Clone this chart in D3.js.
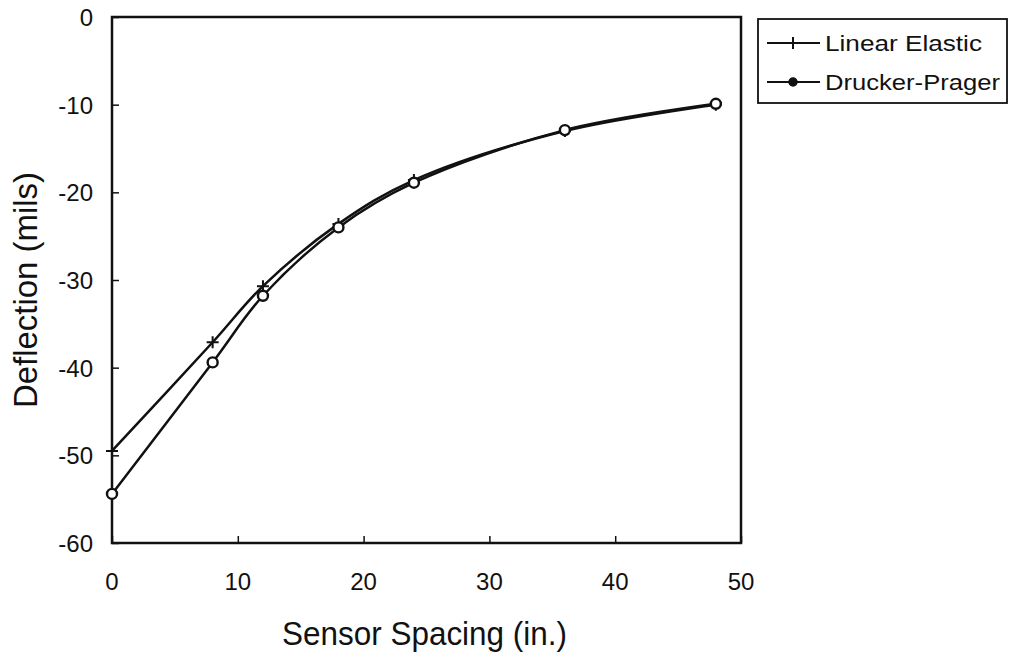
<!DOCTYPE html>
<html lang="en">
<head>
    <meta charset="UTF-8">
    <title>Deflection vs Sensor Spacing</title>
    <script src="https://d3js.org/d3.v7.min.js"></script>
    <style>
        body {margin: 0; background: white;}
        text {font-family: "Liberation Sans", Arial, sans-serif; fill: #111;}
    </style>
</head>
<body>
<script>
    const width = 1011;
    const height = 660;

    // data
    const spacing = [0, 8, 12, 18, 24, 36, 48];
    const linearElastic = [-49.5, -37.1, -30.7, -23.6, -18.6, -13.0, -10.0];
    const druckerPrager = [-54.4, -39.4, -31.8, -24.0, -18.9, -12.9, -9.9];
    const xTicks = [0, 10, 20, 30, 40, 50];
    const yTicks = [0, -10, -20, -30, -40, -50, -60];

    const margin = {left: 112, top: 17, right: 270, bottom: 117};

    const svg = d3.select("body").append("svg")
            .attr("width", width).attr("height", height);

    const x = d3.scaleLinear().domain([0, 50]).range([margin.left, width - margin.right]);
    const y = d3.scaleLinear().domain([-60, 0]).range([height - margin.bottom, margin.top]);

    // plot frame
    svg.append("rect")
            .attr("x", x(0)).attr("y", y(0))
            .attr("width", x(50) - x(0)).attr("height", y(-60) - y(0))
            .style("fill", "none").style("stroke", "#111").style("stroke-width", 2.5);

    // inward ticks
    svg.append("g")
            .attr("transform", "translate(0," + y(-60) + ")")
            .call(d3.axisBottom(x).tickValues(xTicks).tickSize(-7).tickFormat(""))
            .call(g => g.select(".domain").remove())
            .selectAll("line").style("stroke", "#111").style("stroke-width", 1.5);
    svg.append("g")
            .attr("transform", "translate(" + x(0) + ",0)")
            .call(d3.axisLeft(y).tickValues(yTicks).tickSize(-7).tickFormat(""))
            .call(g => g.select(".domain").remove())
            .selectAll("line").style("stroke", "#111").style("stroke-width", 1.5);

    // tick labels
    svg.selectAll("text.xlab").data(xTicks).enter().append("text")
            .attr("class", "xlab")
            .attr("x", d => x(d)).attr("y", y(-60) + 47)
            .attr("text-anchor", "middle")
            .style("font-size", "24px")
            .text(d => d);
    svg.selectAll("text.ylab").data(yTicks).enter().append("text")
            .attr("class", "ylab")
            .attr("x", x(0) - 19).attr("y", d => y(d) + 9)
            .attr("text-anchor", "end")
            .style("font-size", "24px")
            .text(d => d);

    // axis titles
    svg.append("text")
            .attr("x", 282).attr("y", 645)
            .attr("textLength", 285).attr("lengthAdjust", "spacingAndGlyphs")
            .style("font-size", "33px")
            .text("Sensor Spacing (in.)");
    svg.append("text")
            .attr("transform", "translate(37,408) rotate(-90)")
            .attr("textLength", 236).attr("lengthAdjust", "spacingAndGlyphs")
            .style("font-size", "33px")
            .text("Deflection (mils)");

    const line = d3.line()
            .x(d => x(d[0])).y(d => y(d[1]))
            .curve(d3.curveCatmullRom.alpha(0.5));

    const series = [
        {name: "Linear Elastic", values: linearElastic, marker: "plus", len: 157},
        {name: "Drucker-Prager", values: druckerPrager, marker: "circle", len: 175}
    ];

    function drawMarker(g, kind, cx, cy, small) {
        if (kind === "plus") {
            g.append("path")
                    .attr("d", "M" + (cx - 6) + "," + cy + "H" + (cx + 6) + "M" + cx + "," + (cy - 6) + "V" + (cy + 6))
                    .style("stroke", "#111").style("stroke-width", 2);
        } else if (small) {
            g.append("circle")
                    .attr("cx", cx).attr("cy", cy).attr("r", 4)
                    .style("fill", "#111").style("stroke", "#111").style("stroke-width", 1.5);
        } else {
            g.append("circle")
                    .attr("cx", cx).attr("cy", cy).attr("r", 5)
                    .style("fill", "white").style("stroke", "#111").style("stroke-width", 2.4);
        }
    }

    series.forEach(s => {
        const pts = spacing.map((d, i) => [d, s.values[i]]);
        const g = svg.append("g");
        g.append("path")
                .datum(pts)
                .attr("d", line)
                .style("fill", "none").style("stroke", "#111").style("stroke-width", 2.5);
        pts.forEach(p => drawMarker(g, s.marker, x(p[0]), y(p[1])));
    });

    // legend
    const legend = svg.append("g");
    legend.append("rect")
            .attr("x", 758).attr("y", 19).attr("width", 249).attr("height", 84)
            .style("fill", "white").style("stroke", "#111").style("stroke-width", 1.8);
    series.forEach((s, i) => {
        const ly = 43 + i * 39;
        legend.append("line")
                .attr("x1", 767).attr("x2", 820).attr("y1", ly).attr("y2", ly)
                .style("stroke", "#111").style("stroke-width", 2.2);
        drawMarker(legend, s.marker, 793, ly, true);
        legend.append("text")
                .attr("x", 825).attr("y", ly + 8)
                .attr("textLength", s.len).attr("lengthAdjust", "spacingAndGlyphs")
                .style("font-size", "22px")
                .text(s.name);
    });
</script>
</body>
</html>
